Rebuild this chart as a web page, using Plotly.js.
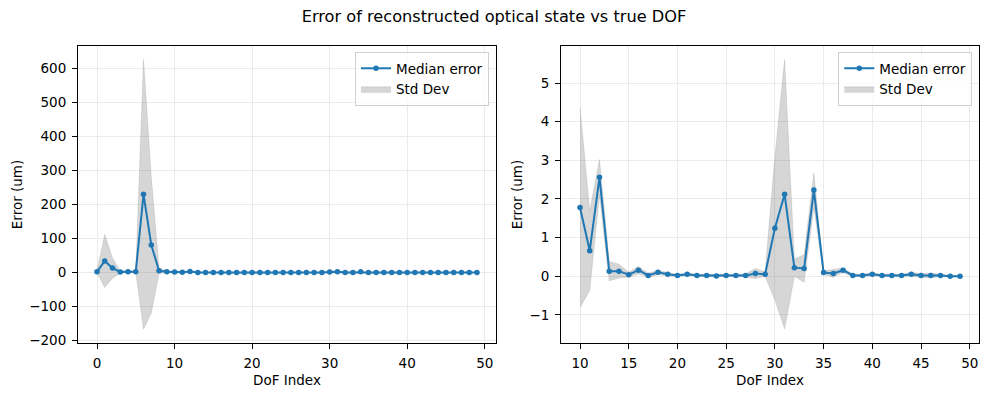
<!DOCTYPE html>
<html>
<head>
<meta charset="utf-8">
<script src="https://cdn.plot.ly/plotly-3.0.1.min.js"></script>
<style>html,body{margin:0;padding:0;background:#fff;}#chart{width:988px;height:396px;}</style>
</head>
<body>
<div id="chart"></div>
<script>
// DoF indices 0..49
const dofIndex = Array.from({length: 50}, (_, i) => i);

// Median error per DoF (um)
const medianError = [
  2, 34, 13, 1.5, 2.5, 2.5, 230, 81, 5, 2,
  1.78, 0.66, 2.56, 0.13, 0.13, 0.04, 0.155, 0.02, 0.10, 0.05,
  0.02, 0.05, 0.02, 0.02, 0.005, 0.02, 0.02, 0.02, 0.07, 0.05,
  1.24, 2.12, 0.22, 0.20, 2.23, 0.095, 0.07, 0.155, 0.02, 0.02,
  0.05, 0.02, 0.02, 0.02, 0.05, 0.02, 0.02, 0.02, 0.0, 0.0
];

// Standard deviation per DoF (um)
const stdDev = [
  3, 78, 30, 3, 2, 2, 397, 200, 8, 2,
  2.6, 1.03, 0.46, 0.25, 0.18, 0.06, 0.10, 0.05, 0.06, 0.04,
  0.03, 0.03, 0.03, 0.03, 0.03, 0.03, 0.03, 0.04, 0.13, 0.06,
  1.85, 3.49, 0.22, 0.36, 0.45, 0.05, 0.10, 0.06, 0.03, 0.03,
  0.04, 0.03, 0.03, 0.03, 0.05, 0.05, 0.06, 0.03, 0.02, 0.02
];

const leftTicksX = [0, 10, 20, 30, 40, 50];
const leftTicksY = [-200, -100, 0, 100, 200, 300, 400, 500, 600];
const rightTicksX = [10, 15, 20, 25, 30, 35, 40, 45, 50];
const rightTicksY = [-1, 0, 1, 2, 3, 4, 5];
const zoomStart = 10;

const FONT = "DejaVu Sans, Liberation Sans, sans-serif";
const BLUE = "#1f77b4";
const BAND = "rgba(128,128,128,0.32)";

function bandTraces(xs, med, sd, xa, ya, legendName, show) {
  const upper = med.map((m, i) => m + sd[i]);
  const lower = med.map((m, i) => m - sd[i]);
  const band = {
    x: xs.concat(xs.slice().reverse()),
    y: upper.concat(lower.slice().reverse()),
    type: "scatter", mode: "lines", fill: "toself",
    fillcolor: BAND, line: {color: "rgba(128,128,128,0.25)", width: 0.8},
    name: "Std Dev", xaxis: xa, yaxis: ya, legend: legendName,
    legendrank: 2, hoverinfo: "skip", showlegend: show
  };
  const line = {
    x: xs, y: med, type: "scatter", mode: "lines+markers",
    line: {color: BLUE, width: 2}, marker: {color: BLUE, size: 5.5},
    name: "Median error", xaxis: xa, yaxis: ya, legend: legendName,
    legendrank: 1, showlegend: show
  };
  return [band, line];
}

const rx = dofIndex.slice(zoomStart);
const rm = medianError.slice(zoomStart);
const rs = stdDev.slice(zoomStart);

const data = [
  ...bandTraces(dofIndex, medianError, stdDev, "x", "y", "legend", true),
  ...bandTraces(rx, rm, rs, "x2", "y2", "legend2", true)
];

const axisCommon = {
  showline: true, mirror: true, linecolor: "#000", linewidth: 1,
  ticks: "outside", ticklen: 5, tickwidth: 1, tickcolor: "#000",
  showgrid: true, gridcolor: "#ebebeb", gridwidth: 1,
  zeroline: false, tickfont: {family: FONT, size: 13.5, color: "#000"},
  ticklabelstandoff: 3
};

const W = 901; // plot area width
const legendCommon = {
  bgcolor: "rgba(255,255,255,0.8)", bordercolor: "#d0d0d0", borderwidth: 1,
  font: {family: FONT, size: 13.5, color: "#000"},
  xanchor: "right", yanchor: "top", tracegroupgap: 0
};

const layout = {
  width: 988, height: 396,
  margin: {l: 78, r: 9, t: 46, b: 53},
  paper_bgcolor: "#fff", plot_bgcolor: "#fff",
  font: {family: FONT, size: 13.5, color: "#000"},
  title: {text: "Error of reconstructed optical state vs true DOF",
          font: {family: FONT, size: 16.2, color: "#000"},
          x: 0.5, xanchor: "center", y: 1 - 16.5/396, yanchor: "middle", yref: "container"},
  xaxis: Object.assign({}, axisCommon, {domain: [0, 418/W], range: [-2.45, 51.45],
    tickvals: leftTicksX, ticktext: leftTicksX.map(String),
    title: {text: "DoF Index", font: {family: FONT, size: 13.5}, standoff: 5}, anchor: "y"}),
  yaxis: Object.assign({}, axisCommon, {range: [-207.5, 666.5],
    tickvals: leftTicksY, ticktext: leftTicksY.map(v => v < 0 ? "\u2212" + Math.abs(v) : String(v)),
    title: {text: "Error (um)", font: {family: FONT, size: 13.5}, standoff: 3}, anchor: "x"}),
  xaxis2: Object.assign({}, axisCommon, {domain: [483/W, 1], range: [8.05, 50.95],
    tickvals: rightTicksX, ticktext: rightTicksX.map(String),
    title: {text: "DoF Index", font: {family: FONT, size: 13.5}, standoff: 5}, anchor: "y2"}),
  yaxis2: Object.assign({}, axisCommon, {range: [-1.73, 5.96],
    tickvals: rightTicksY, ticktext: rightTicksY.map(v => v < 0 ? "\u2212" + Math.abs(v) : String(v)),
    title: {text: "Error (um)", font: {family: FONT, size: 13.5}, standoff: 3}, anchor: "x2"}),
  legend: Object.assign({}, legendCommon, {x: (489 - 78)/W, y: 1 - 6/297}),
  legend2: Object.assign({}, legendCommon, {x: (972.3 - 78)/W, y: 1 - 6/297}),
  showlegend: true
};

Plotly.newPlot("chart", data, layout, {displayModeBar: false, staticPlot: true});
</script>
</body>
</html>
